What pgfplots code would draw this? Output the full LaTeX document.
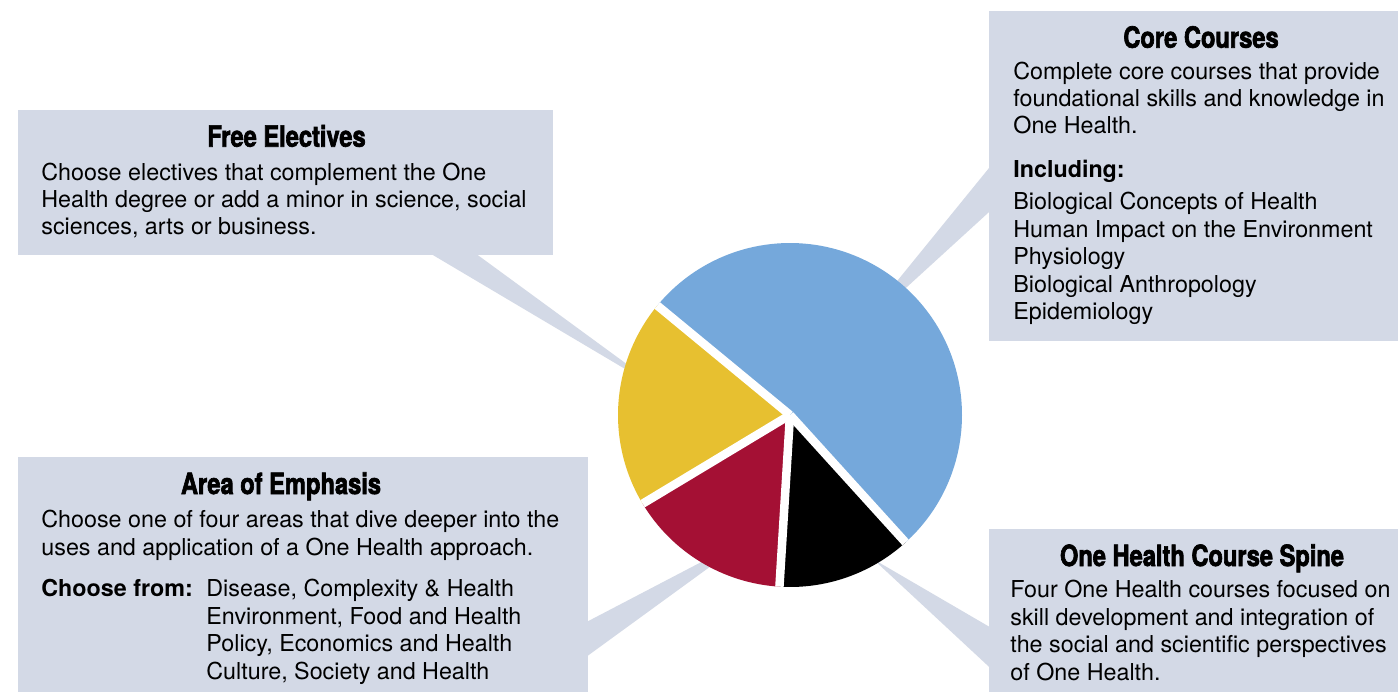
\documentclass[border=0pt]{standalone}
\usepackage{pgfplots}
\usepackage{pgfplotstable}
\pgfplotsset{compat=1.18}
\usepackage{fontspec}
\setmainfont{TeX Gyre Heros}
\newfontfamily\headfam[FakeStretch=0.81,FakeBold=2.2]{TeX Gyre Heros}

\definecolor{coreblue}{RGB}{117,168,219}
\definecolor{electyellow}{RGB}{231,192,48}
\definecolor{emphred}{RGB}{164,16,52}
\definecolor{spineblack}{RGB}{0,0,0}
\definecolor{boxgrey}{RGB}{211,217,230}

% share of the degree, in percent (counter-clockwise from the core slice)
\pgfplotstableread{
part      share
core      52.3
electives 19.6
emphasis  15.4
spine     12.7
}\piedata

\newcommand\bodyfont{\fontsize{11.65pt}{13.75pt}\selectfont}
\newcommand\headfont{\headfam\bfseries\fontsize{14.6pt}{16pt}\selectfont}

\begin{document}
\begin{tikzpicture}[
    body/.style={anchor=base west, inner sep=0pt, font=\bodyfont},
    head/.style={anchor=base, inner sep=0pt, font=\headfont},
]
% slice boundaries from the table
\pgfmathsetmacro\angA{-47.8}
\pgfplotstablegetelem{0}{share}\of\piedata \pgfmathsetmacro\angB{\angA+3.6*\pgfplotsretval}
\pgfplotstablegetelem{1}{share}\of\piedata \pgfmathsetmacro\angC{\angB+3.6*\pgfplotsretval}
\pgfplotstablegetelem{2}{share}\of\piedata \pgfmathsetmacro\angD{\angC+3.6*\pgfplotsretval}
\pgfplotstablegetelem{3}{share}\of\piedata \pgfmathsetmacro\angE{\angD+3.6*\pgfplotsretval}
\def\R{86pt}
\begin{axis}[
    hide axis,
    scale only axis,
    width=699pt, height=346pt,
    xmin=0, xmax=1398, ymin=0, ymax=692,
    enlargelimits=false,
    y dir=reverse,
    clip=false,
]
% background
\addplot[draw=none, fill=white] coordinates {(0,0) (1398,0) (1398,692) (0,692)} -- cycle;

% callout wedges
\addplot[draw=none, fill=boxgrey] coordinates {(669,395) (416,245) (464,245)} -- cycle;
\addplot[draw=none, fill=boxgrey] coordinates {(850,339) (1000,154.5) (1000,202)} -- cycle;
\addplot[draw=none, fill=boxgrey] coordinates {(755,534) (575,628) (575,665)} -- cycle;
\addplot[draw=none, fill=boxgrey] coordinates {(873,559) (1000,633) (1000,677)} -- cycle;

% boxes
\addplot[draw=none, fill=boxgrey] coordinates {(18,110) (553,110) (553,255) (18,255)} -- cycle;
\addplot[draw=none, fill=boxgrey] coordinates {(989,11) (1398,11) (1398,341) (989,341)} -- cycle;
\addplot[draw=none, fill=boxgrey] coordinates {(18,457) (588,457) (588,692) (18,692)} -- cycle;
\addplot[draw=none, fill=boxgrey] coordinates {(989,529) (1398,529) (1398,692) (989,692)} -- cycle;

% pie
\fill[coreblue]    (axis cs:790,415) -- ++(\angA:\R) arc[start angle=\angA, end angle=\angB, radius=\R] -- cycle;
\fill[electyellow] (axis cs:790,415) -- ++(\angB:\R) arc[start angle=\angB, end angle=\angC, radius=\R] -- cycle;
\fill[emphred]     (axis cs:790,415) -- ++(\angC:\R) arc[start angle=\angC, end angle=\angD, radius=\R] -- cycle;
\fill[spineblack]  (axis cs:790,415) -- ++(\angD:\R) arc[start angle=\angD, end angle=\angE, radius=\R] -- cycle;
\draw[white, line width=4.25pt] (axis cs:790,415) -- ++(\angA:\R);
\draw[white, line width=4.25pt] (axis cs:790,415) -- ++(\angB:\R);
\draw[white, line width=4.25pt] (axis cs:790,415) -- ++(\angC:\R);
\draw[white, line width=4.25pt] (axis cs:790,415) -- ++(\angD:\R);

% Free Electives
\node[head] at (axis cs:286.5,146.7) {Free Electives};
\node[body] at (axis cs:41,180) {Choose electives that complement the One};
\node[body] at (axis cs:41,207) {Health degree or add a minor in science, social};
\node[body] at (axis cs:41,234) {sciences, arts or business.};

% Core Courses
\node[head] at (axis cs:1201,47.7) {Core Courses};
\node[body] at (axis cs:1013,79.5) {Complete core courses that provide};
\node[body] at (axis cs:1013,106.5) {foundational skills and knowledge in};
\node[body] at (axis cs:1013,133.5) {One Health.};
\node[body, font=\bodyfont\bfseries] at (axis cs:1013,177) {Including:};
\node[body] at (axis cs:1013,209.5) {Biological Concepts of Health};
\node[body] at (axis cs:1013,237) {Human Impact on the Environment};
\node[body] at (axis cs:1013,264.5) {Physiology};
\node[body] at (axis cs:1013,292) {Biological Anthropology};
\node[body] at (axis cs:1013,319.5) {Epidemiology};

% Area of Emphasis
\node[head] at (axis cs:281,494) {Area of Emphasis};
\node[body] at (axis cs:41,527) {Choose one of four areas that dive deeper into the};
\node[body] at (axis cs:41,555) {uses and application of a One Health approach.};
\node[body, font=\bodyfont\bfseries] at (axis cs:41,596.5) {Choose from:};
\node[body] at (axis cs:206,596.5) {Disease, Complexity \& Health};
\node[body] at (axis cs:206,624) {Environment, Food and Health};
\node[body] at (axis cs:206,651.5) {Policy, Economics and Health};
\node[body] at (axis cs:206,679) {Culture, Society and Health};

% One Health Course Spine
\node[head] at (axis cs:1202,566) {One Health Course Spine};
\node[body] at (axis cs:1010,597.5) {Four One Health courses focused on};
\node[body] at (axis cs:1010,625) {skill development and integration of};
\node[body] at (axis cs:1010,652.5) {the social and scientific perspectives};
\node[body] at (axis cs:1010,680) {of One Health.};
\end{axis}
\end{tikzpicture}
\end{document}
